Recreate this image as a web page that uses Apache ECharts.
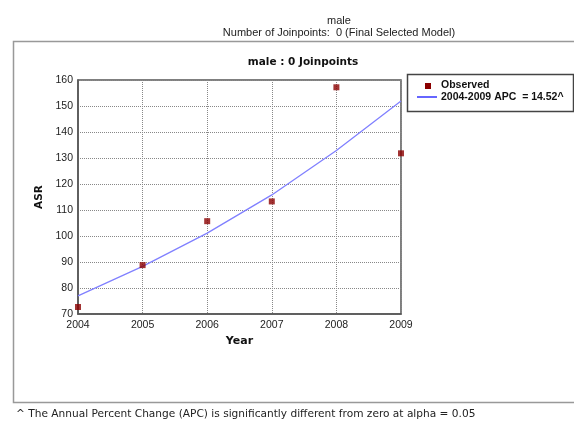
<!DOCTYPE html>
<html><head><meta charset="utf-8">
<script src="https://cdn.jsdelivr.net/npm/echarts@6/dist/echarts.min.js"></script>
<style>html,body{margin:0;padding:0;background:#fff}#c{width:574px;height:423px}</style>
</head><body><div id="c"></div>
<script>
const years = [2004, 2005, 2006, 2007, 2008, 2009];
const observed = [72.7, 88.8, 105.7, 113.3, 157.2, 131.8];
const fitted = [77.0, 88.3, 101.1, 115.8, 132.9, 151.9];
const yTicks = [70, 80, 90, 100, 110, 120, 130, 140, 150, 160];
const legendNames = ['Observed', '2004-2009 APC  = 14.52^'];

const chart = echarts.init(document.getElementById('c'));
const sans = 'Liberation Sans, Arial, sans-serif';
const verd = 'DejaVu Sans, Verdana, sans-serif';
chart.setOption({
  animation: false,
  title: [
    {text: 'male', left: 334, top: 10, textAlign: 'center',
     textStyle: {fontFamily: sans, fontSize: 11, fontWeight: 'normal', color: '#222'}},
    {text: 'Number of Joinpoints:  0 (Final Selected Model)', left: 334, top: 22, textAlign: 'center',
     textStyle: {fontFamily: sans, fontSize: 11, fontWeight: 'normal', color: '#222'}},
    {text: 'male : 0 Joinpoints', left: 298, top: 52, textAlign: 'center',
     textStyle: {fontFamily: verd, fontSize: 10.5, fontWeight: 'bold', color: '#111'}},
    {text: '^ The Annual Percent Change (APC) is significantly different from zero at alpha = 0.05', left: 11, top: 404,
     textStyle: {fontFamily: verd, fontSize: 10.6, fontWeight: 'normal', color: '#222'}}
  ],
  grid: {left: 78, right: 173, top: 80, bottom: 109, show: true, borderColor: '#555', borderWidth: 1.5},
  xAxis: {
    type: 'value', min: 2004, max: 2009, interval: 1,
    name: 'Year', nameLocation: 'middle', nameGap: 22,
    nameTextStyle: {fontFamily: verd, fontSize: 11, fontWeight: 'bold', color: '#111'},
    axisLine: {show: true, lineStyle: {color: '#555', width: 1.5}},
    axisTick: {show: false},
    axisLabel: {fontFamily: sans, fontSize: 10.5, color: '#222', margin: 6, formatter: v => String(v)},
    splitLine: {show: true, lineStyle: {color: '#888', type: 'dotted', width: 1}}
  },
  yAxis: {
    type: 'value', min: yTicks[0], max: yTicks[yTicks.length - 1], interval: 10,
    name: 'ASR', nameLocation: 'middle', nameGap: 29,
    nameTextStyle: {fontFamily: verd, fontSize: 10.5, fontWeight: 'bold', color: '#111'},
    axisLine: {show: true, lineStyle: {color: '#555', width: 1.5}},
    axisTick: {show: false},
    axisLabel: {fontFamily: sans, fontSize: 10.5, color: '#222', margin: 5},
    splitLine: {show: true, lineStyle: {color: '#888', type: 'dotted', width: 1}}
  },
  series: [
    {name: legendNames[1], type: 'line', data: years.map((y, i) => [y, fitted[i]]),
     showSymbol: false, symbol: 'none', lineStyle: {color: '#8080ff', width: 1.3}, z: 2},
    {name: legendNames[0], type: 'scatter', data: years.map((y, i) => [y, observed[i]]),
     symbol: 'rect', symbolSize: 6, itemStyle: {color: '#8b0000'}, z: 3}
  ],
  graphic: [
    {type: 'rect', shape: {x: 13.5, y: 41.5, width: 570, height: 361}, style: {fill: 'none', stroke: '#999', lineWidth: 1.5}, silent: true},
    {type: 'rect', shape: {x: 407.5, y: 74.5, width: 166, height: 37}, style: {fill: '#fff', stroke: '#444', lineWidth: 1.5}, silent: true},
    {type: 'rect', shape: {x: 425, y: 83, width: 6, height: 6}, style: {fill: '#8b0000'}, silent: true},
    {type: 'line', shape: {x1: 417, y1: 97, x2: 437, y2: 97}, style: {stroke: '#3333ff', lineWidth: 1.5}, silent: true},
    {type: 'text', x: 441, y: 85, style: {text: legendNames[0], font: 'bold 10.5px ' + sans, fill: '#111', verticalAlign: 'middle'}, silent: true},
    {type: 'text', x: 441, y: 97, style: {text: legendNames[1], font: 'bold 10.5px ' + sans, fill: '#111', verticalAlign: 'middle'}, silent: true}
  ]
});
</script></body></html>
